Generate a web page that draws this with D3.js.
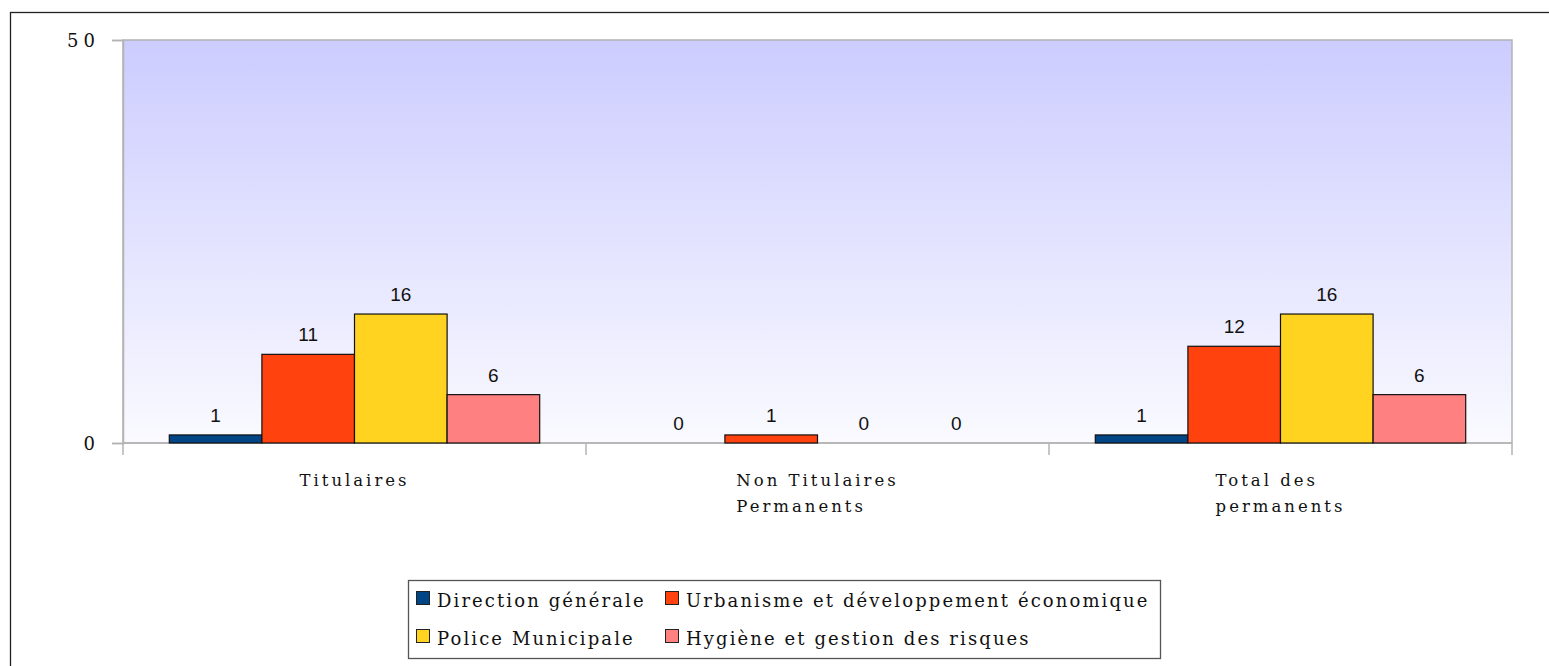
<!DOCTYPE html>
<html>
<head>
<meta charset="utf-8">
<script src="https://cdn.jsdelivr.net/npm/d3@7"></script>
<style>
  body { margin: 0; background: #fff; }
</style>
</head>
<body>
<div id="chart"></div>
<script>
// Chart data
const categories = [["Titulaires"], ["Non Titulaires", "Permanents"], ["Total des", "permanents"]];
const series = ["Direction générale", "Urbanisme et développement économique", "Police Municipale", "Hygiène et gestion des risques"];
const seriesColors = ["#004586", "#ff420e", "#ffd320", "#ff8080"];
const values = [
  [1, 0, 1],    // Direction générale
  [11, 1, 12],  // Urbanisme
  [16, 0, 16],  // Police Municipale
  [6, 0, 6]     // Hygiène
];
const yTicks = [0, 50];

const width = 1549, height = 666;
const plotLeft = 123, plotRight = 1512, plotTop = 40, plotBottom = 443;

const svg = d3.select("#chart").append("svg")
  .attr("width", width)
  .attr("height", height);

// outer frame
svg.append("rect")
  .attr("x", 10.5).attr("y", 12.5)
  .attr("width", 1600).attr("height", 700)
  .attr("fill", "none").attr("stroke", "#222").attr("stroke-width", 1.3);

const defs = svg.append("defs");
const grad = defs.append("linearGradient").attr("id", "bg").attr("x1", 0).attr("x2", 0).attr("y1", 0).attr("y2", 1);
grad.append("stop").attr("offset", "0%").attr("stop-color", "#ccccff");
grad.append("stop").attr("offset", "100%").attr("stop-color", "#fafaff");

const x = d3.scaleBand()
  .domain(d3.range(categories.length))
  .range([plotLeft, plotRight]);

const xInner = d3.scaleBand()
  .domain(d3.range(series.length))
  .range([0, x.bandwidth()])
  .paddingOuter(0.5);

const y = d3.scaleLinear()
  .domain([0, 50])
  .range([plotBottom, plotTop]);

// plot background
svg.append("rect")
  .attr("x", plotLeft).attr("y", plotTop)
  .attr("width", plotRight - plotLeft).attr("height", plotBottom - plotTop)
  .attr("fill", "url(#bg)")
  .attr("stroke", "#b3b3b3").attr("stroke-width", 1.5);

// y axis ticks
const yAxis = svg.append("g").attr("transform", `translate(${plotLeft},0)`)
  .call(d3.axisLeft(y).tickValues(yTicks).tickSize(11).tickPadding(12));
yAxis.select(".domain").attr("stroke", "#b3b3b3").attr("stroke-width", 1.5);
yAxis.selectAll(".tick line").attr("stroke", "#b3b3b3").attr("stroke-width", 1.5);
yAxis.selectAll(".tick text")
  .attr("fill", "#111")
  .style("font-family", "'DejaVu Serif', serif")
  .style("font-size", "18px")
  .style("letter-spacing", "5px")
  .attr("dy", "0.35em");

// x axis with category separators
const xAxisG = svg.append("g").attr("transform", `translate(0,${plotBottom})`);
xAxisG.append("line")
  .attr("x1", plotLeft).attr("x2", plotRight)
  .attr("stroke", "#b3b3b3").attr("stroke-width", 1.5);
xAxisG.selectAll("line.sep")
  .data(d3.range(categories.length + 1))
  .join("line")
  .attr("class", "sep")
  .attr("x1", d => plotLeft + d * x.bandwidth())
  .attr("x2", d => plotLeft + d * x.bandwidth())
  .attr("y1", 0).attr("y2", 12)
  .attr("stroke", "#b3b3b3").attr("stroke-width", 1.5);

// bars
const groups = svg.append("g").selectAll("g")
  .data(categories.map((c, i) => i))
  .join("g")
  .attr("transform", i => `translate(${x(i)},0)`);

groups.selectAll("rect")
  .data(i => series.map((s, j) => ({ j, v: values[j][i] })))
  .join("rect")
  .filter(d => d.v > 0)
  .attr("x", d => xInner(d.j))
  .attr("y", d => y(d.v))
  .attr("width", xInner.bandwidth())
  .attr("height", d => y(0) - y(d.v))
  .attr("fill", d => seriesColors[d.j])
  .attr("stroke", "#111")
  .attr("stroke-width", 1.2);

groups.selectAll("text.val")
  .data(i => series.map((s, j) => ({ j, v: values[j][i] })))
  .join("text")
  .attr("class", "val")
  .attr("x", d => xInner(d.j) + xInner.bandwidth() / 2)
  .attr("y", d => y(d.v) - 13)
  .attr("text-anchor", "middle")
  .style("font-family", "'Liberation Sans', Arial, sans-serif")
  .style("font-size", "19px")
  .attr("fill", "#111")
  .text(d => d.v);

// category labels
const labelStyle = sel => sel
  .style("font-family", "'DejaVu Serif', serif")
  .style("font-size", "16.5px")
  .style("letter-spacing", "3px")
  .attr("fill", "#111");

categories.forEach((lines, i) => {
  const g = svg.append("g");
  const texts = g.selectAll("text")
    .data(lines)
    .join("text")
    .attr("y", (d, k) => 486 + k * 26)
    .text(d => d)
    .call(labelStyle);
  const maxW = d3.max(texts.nodes(), n => n.getComputedTextLength());
  const cx = x(i) + x.bandwidth() / 2;
  texts.attr("x", cx - maxW / 2);
});

// legend
const legend = svg.append("g");
legend.append("rect")
  .attr("x", 408.5).attr("y", 580.5)
  .attr("width", 752).attr("height", 78)
  .attr("fill", "#fff").attr("stroke", "#555").attr("stroke-width", 1.3);

const legendX = [416, 665];
const legendY = [603, 641];
series.forEach((s, j) => {
  const lx = legendX[j % 2], ly = legendY[Math.floor(j / 2)];
  legend.append("rect")
    .attr("x", lx + 0.5).attr("y", ly - 11.5)
    .attr("width", 13).attr("height", 13)
    .attr("fill", seriesColors[j])
    .attr("stroke", "#222").attr("stroke-width", 1);
  legend.append("text")
    .attr("x", lx + 21).attr("y", ly + 4)
    .style("font-family", "'DejaVu Serif', serif")
    .style("font-size", "18px")
    .style("letter-spacing", "2.1px")
    .attr("fill", "#111")
    .text(s);
});
</script>
</body>
</html>
